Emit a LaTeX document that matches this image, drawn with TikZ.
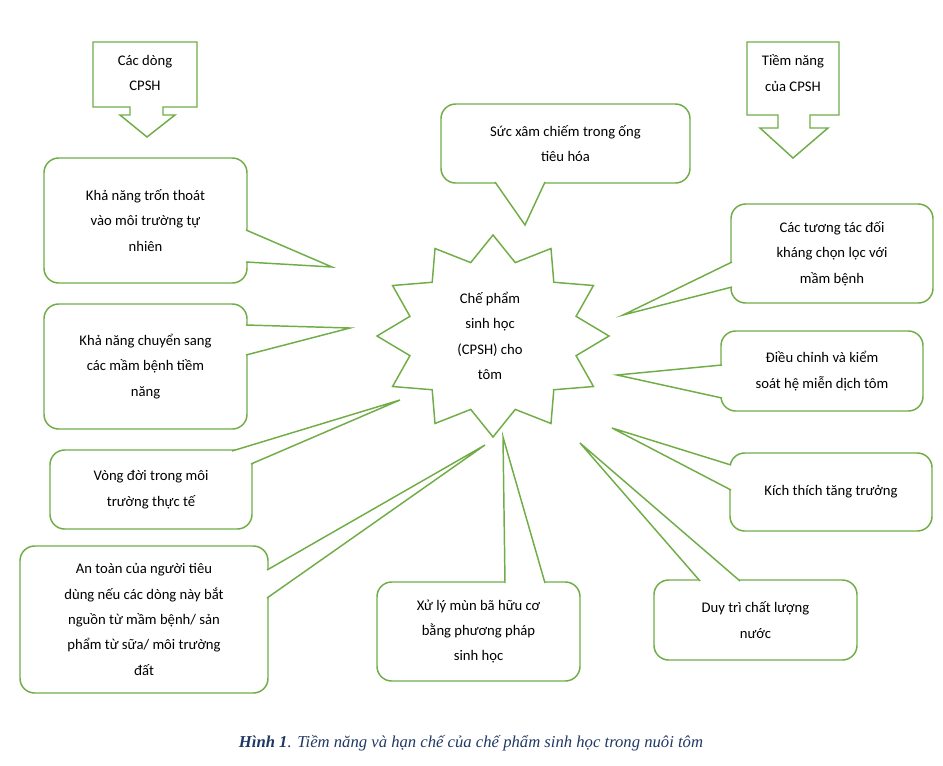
\documentclass[tikz,border=0pt]{standalone}
\usepackage{fontspec}
\setmainfont{Carlito}
\newfontfamily\capfont{Liberation Serif}
\usetikzlibrary{positioning}
\definecolor{khung}{HTML}{70AD47}
\definecolor{chuthich}{HTML}{1F3864}
\tikzset{
  hop/.style={rectangle,rounded corners=11pt,draw=khung,line width=1.1pt,fill=white,align=center,font=\fontsize{11}{19}\selectfont},
  mui/.style={draw=khung,line width=1.1pt,fill=white,line join=miter},
}
\newcommand{\muiten}[3]{%
  \fill[white] (#1) -- (#2) -- (#3) -- cycle;
  \draw[draw=khung,line width=1.1pt] (#1) -- (#2) -- (#3);}
\begin{document}
\begin{tikzpicture}[x=0.75pt,y=-0.75pt]
\useasboundingbox (0,0) rectangle (943,765);

% ngoi sao trung tam
\draw[mui] plot[samples at={0,...,23}] ({493+(mod(\x,2)==0 ? 116 : 86)*cos(90+15*\x)},{336-(mod(\x,2)==0 ? 101 : 76)*sin(90+15*\x)}) -- cycle;
\node[align=center,font=\fontsize{11}{19}\selectfont] (cpsh) at (490,336) {Chế phẩm\\sinh học\\(CPSH) cho\\tôm};

% cac hop chu thich
\node[hop,minimum width=186.75pt,minimum height=59.25pt] (xamchiem) at (565.5,143.5) {Sức xâm chiếm trong ống\\tiêu hóa};
\node[hop,minimum width=152.25pt,minimum height=93.75pt] (tronthoat) at (145.5,220.5) {Khả năng trốn thoát\\vào môi trường tự\\nhiên};
\node[hop,minimum width=152.25pt,minimum height=93.75pt] (chuyensang) at (145.5,366.5) {Khả năng chuyển sang\\các mầm bệnh tiềm\\năng};
\node[hop,minimum width=151.5pt,minimum height=59.25pt] (vongdoi) at (151,489.5) {Vòng đời trong môi\\trường thực tế};
\node[hop,minimum width=186pt,minimum height=110.25pt] (antoan) at (144,619.5) {An toàn của người tiêu\\dùng nếu các dòng này bắt\\nguồn từ mầm bệnh/ sản\\phẩm từ sữa/ môi trường\\đất};
\node[hop,minimum width=152.25pt,minimum height=74.25pt] (xuly) at (478.5,631.5) {Xử lý mùn bã hữu cơ\\bằng phương pháp\\sinh học};
\node[hop,minimum width=152.25pt,minimum height=60pt] (duytri) at (755.5,620) {Duy trì chất lượng\\nước};
\node[hop,minimum width=151.5pt,minimum height=58.5pt] (kichthich) at (831,492) {Kích thích tăng trưởng};
\node[hop,minimum width=151.5pt,minimum height=60pt] (dieuchinh) at (822,371) {Điều chỉnh và kiểm\\soát hệ miễn dịch tôm};
\node[hop,minimum width=151.5pt,minimum height=74.25pt] (tuongtac) at (832,253.5) {Các tương tác đối\\kháng chọn lọc với\\mầm bệnh};

% mui nhon
\muiten{495,182}{525,225}{545,182}
\muiten{246,230}{332,267}{246,262}
\muiten{246,325}{350,328}{246,355}
\muiten{232,451}{400,400}{251,464}
\muiten{267,570}{485,445}{267,598}
\muiten{505,583}{503,437}{545,583}
\muiten{700,581}{580,443}{740,581}
\muiten{731,465}{612,428}{731,490}
\muiten{722,365}{617,375}{722,398}
\muiten{732,262}{623,315}{732,287}

% mui ten khoi
\draw[mui] (93,42) -- (197,42) -- (197,107) -- (163,107) -- (163,115) -- (175,115) -- (147,137) -- (120,115) -- (130,115) -- (130,107) -- (93,107) -- cycle;
\node[align=center,font=\fontsize{11}{19}\selectfont] (cacdong) at (145,73) {Các dòng\\CPSH};
\draw[mui] (747,42) -- (839,42) -- (839,115) -- (810,115) -- (810,128) -- (828,128) -- (793,158) -- (760,128) -- (778,128) -- (778,115) -- (747,115) -- cycle;
\node[align=center,font=\fontsize{11}{19}\selectfont] (tiemnang) at (793,73) {Tiềm năng\\của CPSH};

\node[font=\capfont\itshape\fontsize{12.5}{14}\selectfont,text=chuthich] (hinh) at (471,743) {\textbf{Hình 1}. Tiềm năng và hạn chế của chế phẩm sinh học trong nuôi tôm};
\end{tikzpicture}
\end{document}
